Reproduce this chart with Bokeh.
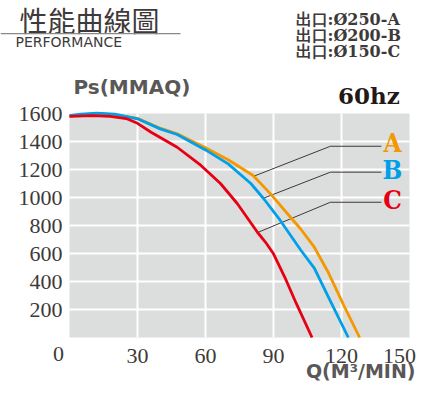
from bokeh.plotting import figure
from bokeh.models import Label, BoxAnnotation, Range1d
from bokeh.core.properties import value
from bokeh.embed import file_html
from bokeh.resources import INLINE

# ---- data ----
q_a = [0, 5, 10, 15, 20, 30, 40, 47.5, 60, 70, 81, 88.7, 97.5, 102, 108, 114, 121, 128]
ps_a = [1580, 1590, 1597, 1597, 1590, 1565, 1495, 1455, 1355, 1270, 1157, 1026, 859, 775, 645, 470, 230, 0]

q_b = [0, 5, 12, 20, 30, 40, 47.5, 60, 70, 80, 85.6, 93, 102, 108, 115, 123]
ps_b = [1585, 1595, 1602, 1595, 1562, 1490, 1450, 1340, 1240, 1100, 993, 836, 625, 495, 264, 0]

q_c = [0, 10, 18, 25, 30, 36, 47.5, 58, 66.6, 74, 83, 86.5, 90, 95, 100, 107]
ps_c = [1580, 1585, 1580, 1564, 1530, 1466, 1359, 1229, 1100, 957, 750, 680, 598, 430, 245, 0]

series_names = ["A", "B", "C"]
series_colors = ["#f39800", "#00a0e9", "#e60012"]

x_ticks = [0, 30, 60, 90, 120, 150]
y_ticks = [0, 200, 400, 600, 800, 1000, 1200, 1400, 1600]

outlet_texts = ["出口:Ø250-A", "出口:Ø200-B", "出口:Ø150-C"]
title_text = "性能曲線圖"
subtitle_text = "PERFORMANCE"
y_title = "Ps(MMAQ)"
x_title = "Q(M³/MIN)"
freq_text = "60hz"

# leader lines (curve point -> elbow -> label), data coordinates
leader_xs = [[81, 115.1, 137.6], [85.6, 115.1, 137.6], [83.3, 115.1, 137.6]]
leader_ys = [[1150, 1366, 1366], [995, 1181, 1181], [752, 966, 966]]
label_x = [142.5, 142.5, 142.5]
label_y = [1386, 1196, 984]

# ---- layout geometry (pixels) ----
W, H = 416, 383
frame_left, frame_right = 69, 409      # canvas x of Q=0 and Q=150
frame_top, frame_bottom = 113, 337     # canvas y of Ps=1600 and Ps=0
xmin, xmax = x_ticks[0], x_ticks[-1]
ymin, ymax = y_ticks[0], y_ticks[-1]
sx = (frame_right - frame_left) / (xmax - xmin)
sy = (frame_bottom - frame_top) / (ymax - ymin)

p = figure(width=W, height=H,
           x_range=Range1d(xmin - frame_left / sx, xmax + (W - frame_right) / sx),
           y_range=Range1d(ymin - (H - frame_bottom) / sy, ymax + frame_top / sy),
           output_backend="svg", toolbar_location=None,
           x_axis_location=None, y_axis_location=None,
           min_border=0)
p.background_fill_color = "white"
p.border_fill_color = "white"
p.outline_line_color = None
p.grid.visible = False

# plot area and grid
p.quad(left=[xmin], right=[xmax], bottom=[ymin], top=[ymax],
       fill_color="#dcdddd", line_color=None)
p.segment(x0=x_ticks[1:-1], y0=[ymin] * 4, x1=x_ticks[1:-1], y1=[ymax] * 4,
          line_color="white", line_width=2)
p.segment(x0=[xmin] * 7, y0=y_ticks[1:-1], x1=[xmax] * 7, y1=y_ticks[1:-1],
          line_color="white", line_width=2)

# tick labels
tick_font = value("Liberation Serif")
p.text(x=[xmin] * 8, y=y_ticks[1:], text=[str(t) for t in y_ticks[1:]],
       x_offset=-7, text_align="right", text_baseline="middle",
       text_font=tick_font, text_font_size="22px", text_color="#3e3a39")
p.text(x=x_ticks[1:], y=[ymin] * 5, text=[str(t) for t in x_ticks[1:]],
       x_offset=[0, 0, 0, 0, -10], y_offset=18, text_align="center",
       text_baseline="middle",
       text_font=tick_font, text_font_size="22px", text_color="#3e3a39")
p.text(x=[xmin], y=[ymin], text=[str(x_ticks[0])], x_offset=-11, y_offset=16,
       text_align="center", text_baseline="middle",
       text_font=tick_font, text_font_size="22px", text_color="#3e3a39")

# leader lines and curves
p.multi_line(leader_xs, leader_ys, line_color="#3e3a39", line_width=1)
p.line(q_a, ps_a, line_color=series_colors[0], line_width=2.8)
p.line(q_b, ps_b, line_color=series_colors[1], line_width=2.8)
p.line(q_c, ps_c, line_color=series_colors[2], line_width=2.8)

p.text(x=label_x, y=label_y, text=series_names, text_color=series_colors,
       text_font=value("DejaVu Serif Condensed"), text_font_style="bold",
       text_font_size="26px", text_align="center", text_baseline="middle")

def clabel(x, y, text, **kw):
    p.add_layout(Label(x=x, y=y, x_units="canvas", y_units="canvas", text=text,
                       text_baseline="middle", **kw))

clabel(19, 19.5, title_text, text_font="Noto Sans CJK TC", text_font_size="28px",
       text_color="#3e3a39")
p.add_layout(BoxAnnotation(left=0, right=180, top=32.5, bottom=33.8,
                           left_units="canvas", right_units="canvas",
                           top_units="canvas", bottom_units="canvas",
                           fill_color="#898989", fill_alpha=1, line_color=None))
clabel(15, 41.5, subtitle_text, text_font="DejaVu Sans", text_font_size="14px",
       text_color="#3e3a39")
for i, t in enumerate(outlet_texts):
    clabel(295, 19 + 16 * i, t, text_font="DejaVu Serif",
           text_font_style="bold", text_font_size="16px", text_color="#3e3a39")
clabel(368.5, 95, freq_text, text_font="DejaVu Serif", text_font_style="bold",
       text_font_size="23px", text_color="#231815", text_align="center")
clabel(73, 86, y_title, text_font="DejaVu Sans", text_font_style="bold",
       text_font_size="20px", text_color="#595757")
clabel(415, 370.5, x_title, text_font="DejaVu Sans", text_font_style="bold",
       text_font_size="19px", text_color="#595757", text_align="right")

open("out.html", "w").write(file_html(p, INLINE))
